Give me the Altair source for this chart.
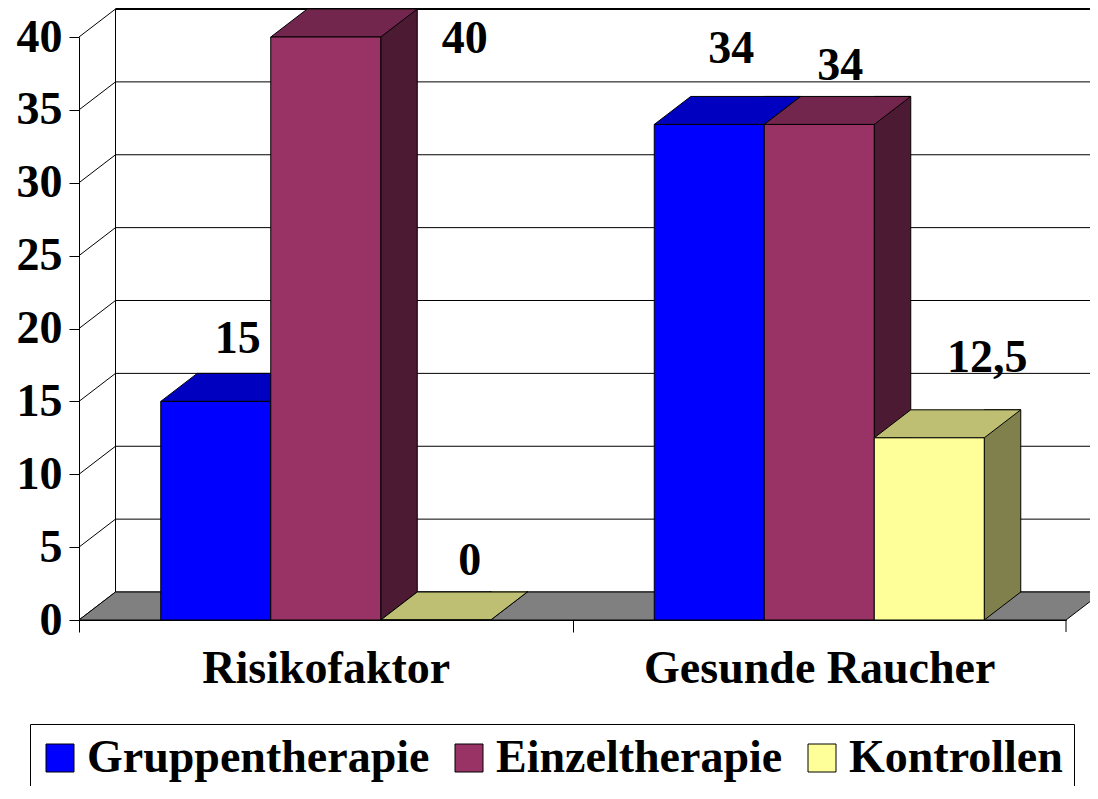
import altair as alt
import pandas as pd

# ---------------- data ----------------
categories = ["Risikofaktor", "Gesunde Raucher"]
series = ["Gruppentherapie", "Einzeltherapie", "Kontrollen"]
risikofaktor_values = [15, 40, 0]
gesunde_raucher_values = [34, 34, 12.5]
y_ticks = [0, 5, 10, 15, 20, 25, 30, 35, 40]

# ---------------- style ----------------
front_colors = ["#0000FF", "#993366", "#FFFF99"]
top_colors = ["#0000C0", "#73264D", "#BFBF73"]
side_colors = ["#000080", "#4D1A33", "#80804D"]
label_dx = [22, 139, 34, 22, 21, 58]        # label nudges in px, per bar
label_dy = [-48, 16, -45, -61.5, -44.5, -66]

FONT = "Liberation Serif"
FS = 46
W, H = 987, 583          # plot area
DX, DY = 36.5, 28        # 3D depth offset (px)
step = W / 2
band_frac = 330 / 493.5
p_inner = 1 - band_frac
p_outer = p_inner / 2
bar_w = step * band_frac / 3
hw = bar_w / 2

rows = []
idx = 0
for cat, vals in zip(categories, [risikofaktor_values, gesunde_raucher_values]):
    for s, v in enumerate(vals):
        rows.append({
            "idx": idx, "sidx": s, "cat": cat, "series": series[s], "value": v, "zero": 0,
            "top_color": top_colors[s], "side_color": side_colors[s],
            "label": f"{v:g}".replace(".", ","),
        })
        idx += 1
df = pd.DataFrame(rows)
ticks_df = pd.DataFrame({"value": y_ticks})
floor_df = pd.DataFrame({"value": [0], "value2": [y_ticks[-1]]})

yscale = alt.Scale(domain=[0, 40], nice=False, zero=True)
yaxis = alt.Axis(values=y_ticks, title=None, grid=False, tickSize=10, tickColor="black",
                 domainColor="black", labelFont=FONT, labelFontSize=FS, labelFontWeight="bold",
                 labelColor="black", labelPadding=7, zindex=1)
xscale = alt.Scale(domain=categories, paddingInner=p_inner, paddingOuter=p_outer)
xaxis = alt.Axis(title=None, labelAngle=0, tickSize=12, tickColor="black",
                 tickOffset=-step / 2, labelOffset=step / 2,
                 domainColor="black", labelFont=FONT, labelFontSize=FS, labelFontWeight="bold",
                 labelColor="black", labelPadding=14, labelLimit=0, zindex=1)

x_enc = alt.X("cat:N", sort=categories, scale=xscale, axis=xaxis)
xo_enc = alt.XOffset("series:N", sort=series,
                     scale=alt.Scale(domain=series, paddingInner=0, paddingOuter=0))
y_enc = alt.Y("value:Q", stack=None, scale=yscale, axis=yaxis)

floor_path = f"M0,0 L{W},0 L{W+DX},{-DY} L{DX},{-DY} Z"
top_path = f"M{-hw},0 L{hw},0 L{hw+DX},{-DY} L{-hw+DX},{-DY} Z"
tri_path = f"M{hw},{-DY-1} L{hw},0 L{hw+DX},{-DY} L{hw+DX},{-DY-1}"

# back wall gridlines
grid = alt.Chart(ticks_df).mark_rule(yOffset=-DY, color="black").encode(
    x=alt.value(DX), x2=alt.value(W + DX + 40), y=y_enc,
    strokeWidth=alt.condition(alt.datum.value == 40, alt.value(2), alt.value(1)),
)
# left wall diagonals
diag = alt.Chart(ticks_df).mark_rule(y2Offset=-DY, color="black", strokeWidth=1).encode(
    x=alt.value(0), x2=alt.value(DX), y=y_enc, y2=alt.Y2("value"),
)
# back wall left edge
wall_edge = alt.Chart(floor_df).mark_rule(yOffset=-DY, y2Offset=-DY, color="black", strokeWidth=1).encode(
    x=alt.value(DX), y=y_enc, y2=alt.Y2("value2"),
)
floor = alt.Chart(floor_df).mark_point(shape=floor_path, size=4, filled=True, fill="#808080",
                                       stroke="black", strokeWidth=1, opacity=1).encode(
    x=alt.value(0), y=y_enc,
)
# closing category tick at the right end of the x axis
end_tick = alt.Chart(floor_df).mark_rule(color="black", strokeWidth=1).encode(
    x=alt.value(W), y=alt.value(H), y2=alt.value(H + 12),
)

# side faces, one layer per series (pixel shift from the group centre)
sides = []
for s in range(len(series)):
    sides.append(
        alt.Chart(df).transform_filter(alt.datum.sidx == s).mark_bar(
            width=DX, xOffset=(s - 1) * bar_w + hw + DX / 2, yOffset=-DY, y2Offset=-DY,
            stroke="black", strokeWidth=1,
        ).encode(
            x=x_enc, y=y_enc, y2=alt.Y2("zero"),
            fill=alt.Fill("side_color:N", scale=None),
        )
    )
side_tri = alt.Chart(df).mark_point(shape=tri_path, size=4, filled=True, stroke="black",
                                    strokeWidth=1, opacity=1).encode(
    x=x_enc, xOffset=xo_enc, y=alt.Y("zero:Q", scale=yscale, axis=yaxis),
    fill=alt.Fill("side_color:N", scale=None), stroke=alt.value("black"),
)
tops = alt.Chart(df).mark_point(shape=top_path, size=4, filled=True, stroke="black",
                                strokeWidth=1, opacity=1).encode(
    x=x_enc, xOffset=xo_enc, y=y_enc,
    fill=alt.Fill("top_color:N", scale=None), stroke=alt.value("black"),
)
fronts = alt.Chart(df).mark_bar(stroke="black", strokeWidth=1).encode(
    x=x_enc, xOffset=xo_enc, y=y_enc,
    fill=alt.Fill("series:N", sort=series, scale=alt.Scale(domain=series, range=front_colors),
                  legend=alt.Legend(orient="none", legendX=-49, legendY=687, direction="horizontal",
                                    title=None, symbolType="square", symbolSize=784,
                                    symbolStrokeColor="black", symbolStrokeWidth=1,
                                    symbolOffset=-4,
                                    labelFont=FONT, labelFontSize=FS, labelFontWeight="bold",
                                    labelColor="black", labelOffset=4, labelLimit=0,
                                    columnPadding=20, padding=11, strokeColor="black",
                                    fillColor="white", cornerRadius=0)),
)

labels = []
for i in range(len(df)):
    labels.append(
        alt.Chart(df).transform_filter(alt.datum.idx == i).mark_text(
            dx=label_dx[i], dy=label_dy[i], align="center", baseline="alphabetic",
            font=FONT, fontSize=FS, fontWeight="bold", color="black",
        ).encode(x=x_enc, xOffset=xo_enc, y=y_enc, text="label:N")
    )

chart = alt.layer(grid, diag, wall_edge, floor, end_tick, *sides, side_tri, tops, fronts, *labels).properties(
    width=W, height=H,
    padding={"left": 71, "top": 29, "right": 24, "bottom": 166},
    autosize=alt.AutoSizeParams(type="none"),
    background="white",
).configure_view(stroke=None)

chart.save("out.html", embed_options={"renderer": "svg", "actions": False})
